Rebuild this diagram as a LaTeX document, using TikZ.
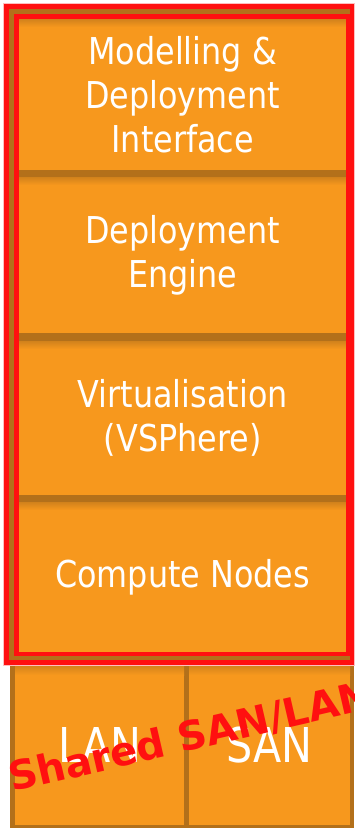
\documentclass[tikz,border=0pt]{standalone}
\usepackage{fontspec}
\setmainfont{DejaVu Sans}[FakeStretch=0.86]
\newfontfamily\markfont{DejaVu Sans}
\definecolor{orng}{HTML}{F7981D}
\definecolor{brwn}{HTML}{B3701A}
\definecolor{rd}{HTML}{FF1010}
\begin{document}
\begin{tikzpicture}[x=1pt,y=-1pt,
  layerbox/.style={fill=orng, draw=none, inner sep=0, anchor=north west, text=white,
    align=center, font=\fontsize{37}{44}\selectfont},
  netbox/.style={layerbox, font=\fontsize{48}{56}\selectfont},
  redframe/.style={draw=rd, line width=4.5pt},
  shadowband/.style={top color=brwn!55!orng, bottom color=orng}]
\useasboundingbox (0,0) rectangle (354,828);
% lower block (LAN / SAN)
\fill[brwn] (10,663) rectangle (354,828);
\node[netbox, minimum width=169pt, minimum height=160pt] (lan) at (15,665) {LAN};
\node[netbox, minimum width=161pt, minimum height=160pt] (san) at (189,665) {SAN};
\shade[shadowband] (15,665) rectangle (184,675);
\shade[shadowband] (189,665) rectangle (350,675);
% upper stack
\draw[red!25, line width=1pt] (3.5,3.5) rectangle (354,665.5);
\fill[brwn] (8.5,8.5) rectangle (350,660);
\node[layerbox, minimum width=327pt, minimum height=151pt] (mdi) at (19,19) {Modelling \&\\Deployment\\Interface};
\node[layerbox, minimum width=327pt, minimum height=156pt] (eng) at (19,177) {Deployment\\Engine};
\node[layerbox, minimum width=327pt, minimum height=154pt] (virt) at (19,341) {Virtualisation\\(VSPhere)};
\node[layerbox, minimum width=327pt, minimum height=150pt] (comp) at (19,502) {Compute Nodes};
\shade[shadowband] (19,19) rectangle (346,27);
\shade[shadowband] (19,177) rectangle (346,185);
\shade[shadowband] (19,341) rectangle (346,349);
\shade[shadowband] (19,502) rectangle (346,510);
\draw[redframe] (6.5,6.5) rectangle (352,662.5);
\draw[redframe] (16.5,16.5) rectangle (348,654);
% overlay label
\node[rotate=13, anchor=base west, text=rd, inner sep=0,
  font=\markfont\bfseries\fontsize{40}{48}\selectfont] (shared) at (12,792) {Shared SAN/LAN};
\end{tikzpicture}
\end{document}
